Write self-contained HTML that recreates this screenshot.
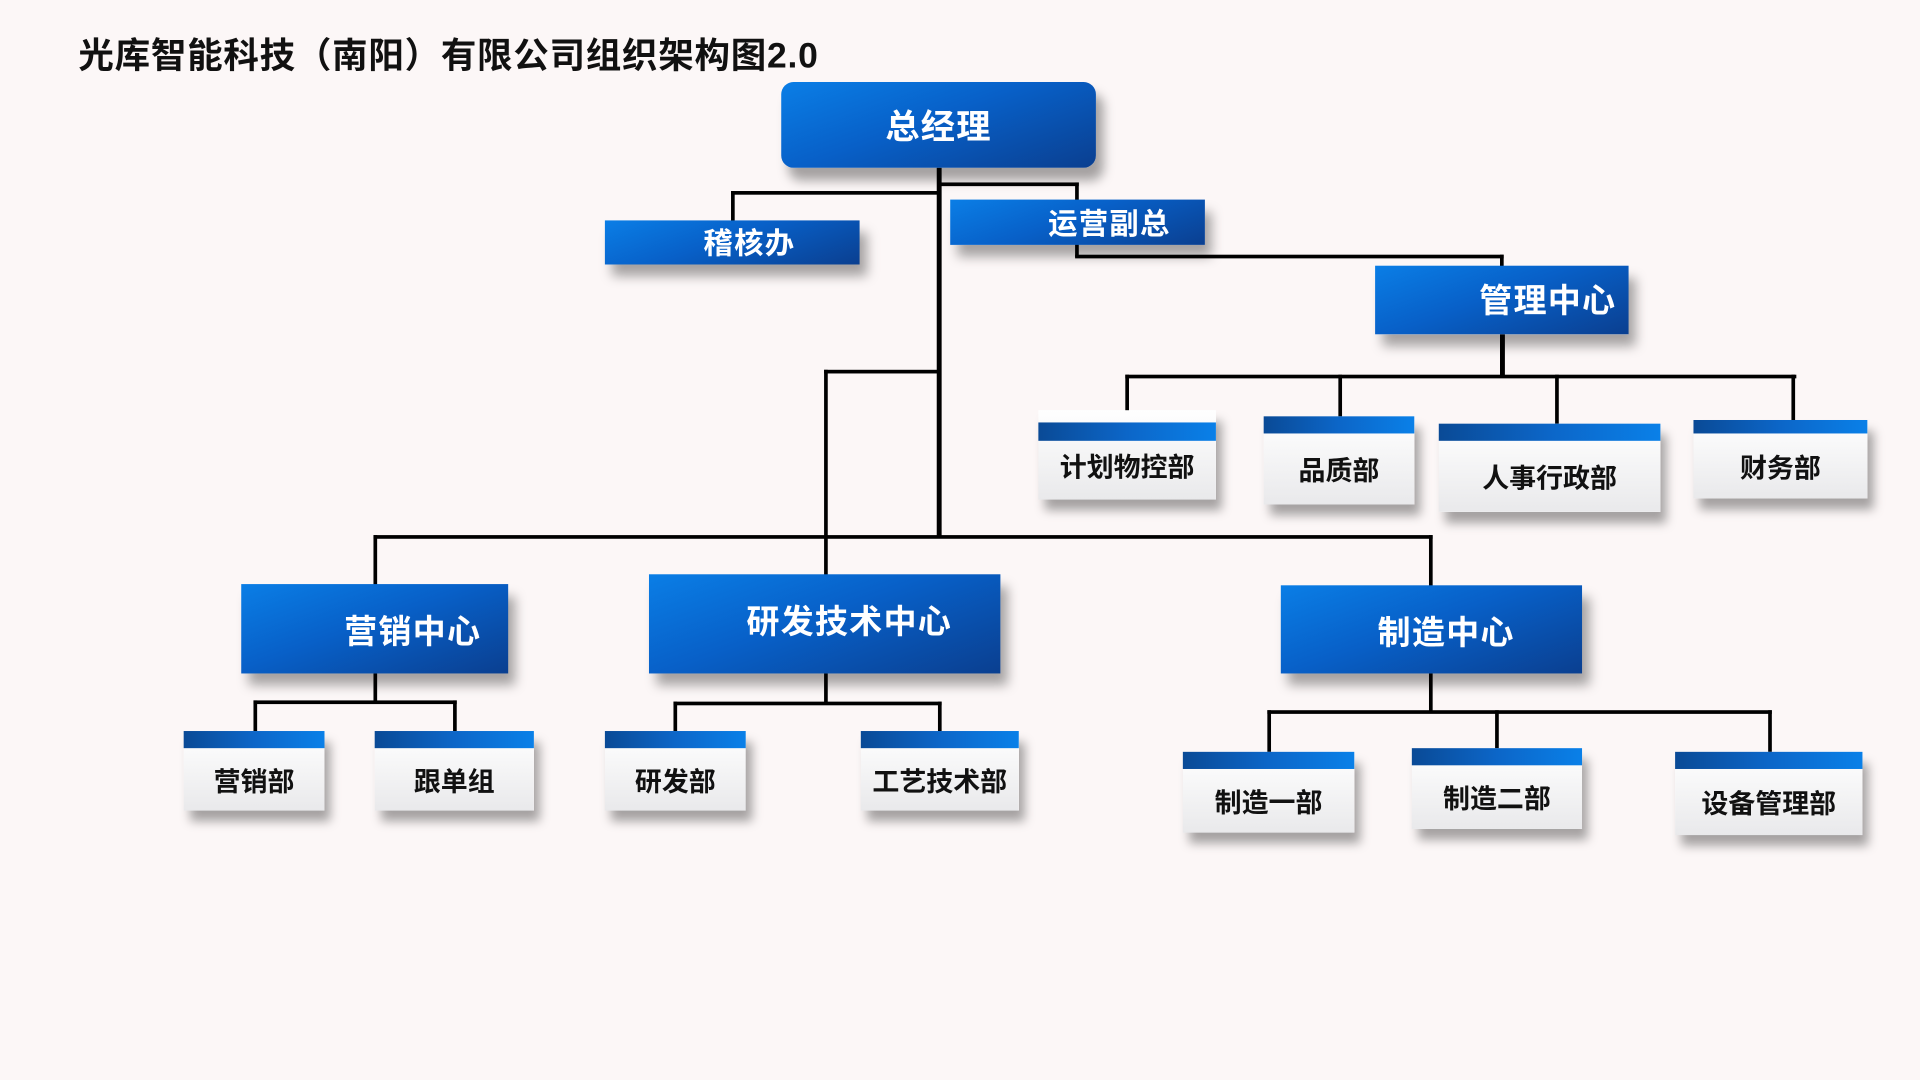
<!DOCTYPE html>
<html><head><meta charset="utf-8"><style>
html,body{margin:0;padding:0;width:1920px;height:1080px;overflow:hidden;background:#fcf7f7;}
#w{position:absolute;left:0;top:0;width:1568px;height:882px;transform:scale(1.22449);transform-origin:0 0;font-family:"Liberation Sans","Noto Sans CJK SC",sans-serif;}
.t{position:absolute;left:64px;top:22px;font-size:29px;font-weight:bold;color:#111;letter-spacing:0.6px;white-space:nowrap;}
.b{position:absolute;background:linear-gradient(160deg,#0a7ee6 0%,#0860c8 45%,#0a3f90 100%);color:#fff;box-shadow:6px 10px 9px rgba(0,0,0,0.35);display:flex;align-items:center;white-space:nowrap;font-size:27px;letter-spacing:1px;font-weight:bold;}
.s{position:absolute;background:linear-gradient(180deg,#ffffff,#e9e9eb);box-shadow:5px 9px 8px rgba(0,0,0,0.35);color:#111;font-size:22px;white-space:nowrap;font-weight:bold;}
.s .bar{position:absolute;left:0;right:0;top:0;background:linear-gradient(90deg,#0a4a96,#0c66c8 50%,#0a80e8);}
.s .tx{position:absolute;left:0;right:0;bottom:0;display:flex;align-items:center;justify-content:center;}
.l{position:absolute;background:#000;}
</style></head><body><div id="w">
<div class="t">光库智能科技（南阳）有限公司组织架构图2.0</div>

<div class="l" style="left:765px;top:137px;width:4px;height:301px"></div>
<div class="l" style="left:597px;top:156px;width:170px;height:3px"></div>
<div class="l" style="left:597px;top:156px;width:3px;height:26px"></div>
<div class="l" style="left:767px;top:149px;width:114px;height:3px"></div>
<div class="l" style="left:878px;top:149px;width:3px;height:16px"></div>
<div class="l" style="left:878px;top:198px;width:3px;height:12px"></div>
<div class="l" style="left:878px;top:208px;width:350px;height:3px"></div>
<div class="l" style="left:1225px;top:208px;width:3px;height:10px"></div>
<div class="l" style="left:1225px;top:273px;width:4px;height:35px"></div>
<div class="l" style="left:919px;top:306px;width:548px;height:3px"></div>
<div class="l" style="left:919px;top:306px;width:3px;height:40px"></div>
<div class="l" style="left:1093px;top:306px;width:3px;height:35px"></div>
<div class="l" style="left:1270px;top:306px;width:3px;height:41px"></div>
<div class="l" style="left:1463px;top:306px;width:3px;height:45px"></div>
<div class="l" style="left:673px;top:302px;width:93px;height:3px"></div>
<div class="l" style="left:673px;top:302px;width:3px;height:168px"></div>
<div class="l" style="left:305px;top:437px;width:865px;height:3px"></div>
<div class="l" style="left:305px;top:437px;width:3px;height:41px"></div>
<div class="l" style="left:1167px;top:437px;width:3px;height:42px"></div>
<div class="l" style="left:305px;top:550px;width:3px;height:24px"></div>
<div class="l" style="left:207px;top:572px;width:166px;height:3px"></div>
<div class="l" style="left:207px;top:572px;width:3px;height:26px"></div>
<div class="l" style="left:370px;top:572px;width:3px;height:26px"></div>
<div class="l" style="left:673px;top:550px;width:3px;height:25px"></div>
<div class="l" style="left:550px;top:573px;width:219px;height:3px"></div>
<div class="l" style="left:550px;top:573px;width:3px;height:25px"></div>
<div class="l" style="left:766px;top:573px;width:3px;height:25px"></div>
<div class="l" style="left:1167px;top:550px;width:3px;height:32px"></div>
<div class="l" style="left:1035px;top:580px;width:412px;height:3px"></div>
<div class="l" style="left:1035px;top:580px;width:3px;height:35px"></div>
<div class="l" style="left:1221px;top:580px;width:3px;height:32px"></div>
<div class="l" style="left:1444px;top:580px;width:3px;height:35px"></div>

<div class="b" style="left:638px;top:67px;width:257px;height:70px;border-radius:10px;justify-content:center;font-size:28px">总经理</div>
<div class="b" style="left:494px;top:180px;width:208px;height:36px;justify-content:center;padding-left:28px;padding-bottom:3px;box-sizing:border-box;font-size:24px">稽核办</div>
<div class="b" style="left:776px;top:163px;width:208px;height:37px;justify-content:center;padding-left:52px;padding-bottom:3px;box-sizing:border-box;font-size:24px">运营副总</div>
<div class="b" style="left:1123px;top:217px;width:207px;height:56px;justify-content:flex-end;padding-right:10px;padding-bottom:4px;box-sizing:border-box">管理中心</div>
<div class="b" style="left:197px;top:477px;width:218px;height:73px;justify-content:flex-end;padding-right:22px;box-sizing:border-box">营销中心</div>
<div class="b" style="left:530px;top:469px;width:287px;height:81px;justify-content:center;padding-left:40px;padding-bottom:8px;box-sizing:border-box">研发技术中心</div>
<div class="b" style="left:1046px;top:478px;width:246px;height:72px;justify-content:center;padding-left:24px;box-sizing:border-box">制造中心</div>

<div class="s" style="left:848px;top:335px;width:145px;height:73px"><div class="bar" style="top:10px;height:15px"></div><div class="tx" style="top:25px;padding-bottom:8px">计划物控部</div></div>
<div class="s" style="left:1032px;top:340px;width:123px;height:72px"><div class="bar" style="height:14px"></div><div class="tx" style="top:14px">品质部</div></div>
<div class="s" style="left:1175px;top:346px;width:181px;height:72px"><div class="bar" style="height:14px"></div><div class="tx" style="top:14px">人事行政部</div></div>
<div class="s" style="left:1383px;top:343px;width:142px;height:64px"><div class="bar" style="height:11px"></div><div class="tx" style="top:11px">财务部</div></div>
<div class="s" style="left:150px;top:597px;width:115px;height:65px"><div class="bar" style="height:14px"></div><div class="tx" style="top:14px">营销部</div></div>
<div class="s" style="left:306px;top:597px;width:130px;height:65px"><div class="bar" style="height:14px"></div><div class="tx" style="top:14px">跟单组</div></div>
<div class="s" style="left:494px;top:597px;width:115px;height:65px"><div class="bar" style="height:14px"></div><div class="tx" style="top:14px">研发部</div></div>
<div class="s" style="left:703px;top:597px;width:129px;height:65px"><div class="bar" style="height:14px"></div><div class="tx" style="top:14px">工艺技术部</div></div>
<div class="s" style="left:966px;top:614px;width:140px;height:66px"><div class="bar" style="height:14px"></div><div class="tx" style="top:14px">制造一部</div></div>
<div class="s" style="left:1153px;top:611px;width:139px;height:66px"><div class="bar" style="height:14px"></div><div class="tx" style="top:14px">制造二部</div></div>
<div class="s" style="left:1368px;top:614px;width:153px;height:68px"><div class="bar" style="height:14px"></div><div class="tx" style="top:14px">设备管理部</div></div>
</div></body></html>
